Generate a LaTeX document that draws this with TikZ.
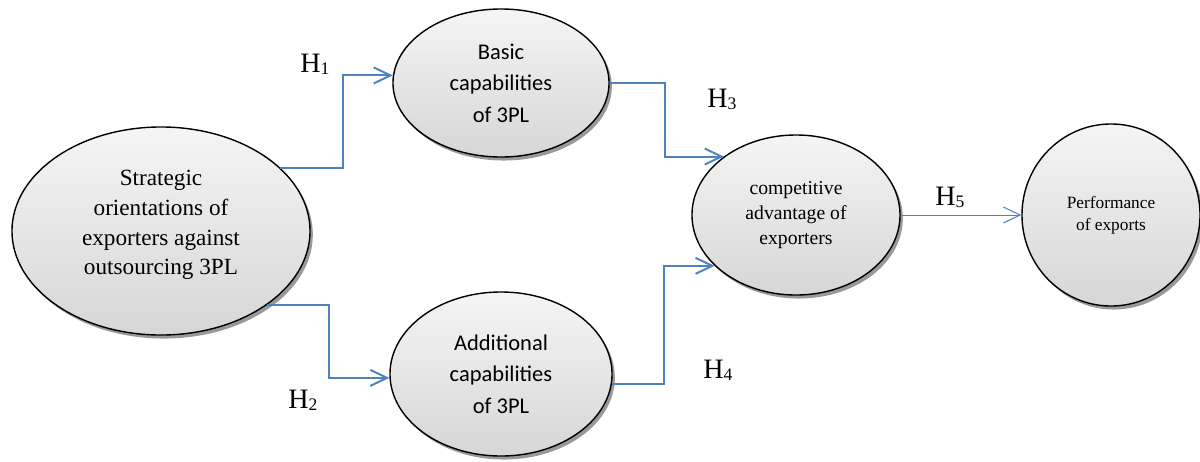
\documentclass[tikz,border=0pt]{standalone}
\usepackage{fontspec}
\setmainfont{Liberation Serif}
\newfontfamily\tnr{Liberation Serif}
\newfontfamily\calib{Carlito}
\usetikzlibrary{shapes.geometric,shadows,arrows.meta}
\definecolor{lnkblue}{HTML}{4F81BD}
\newcommand\hlab[1]{{\tnr\fontsize{20}{24}\selectfont H}\raisebox{-2pt}{\tnr\fontsize{12.5}{14}\selectfont #1}}

\begin{document}
\begin{tikzpicture}
      [x=.025cm,y=-.025cm
      ,bub/.style={ellipse,draw=black,line width=1pt,inner sep=0pt,align=center
                  ,top color=gray!8,bottom color=gray!32
                  ,drop shadow={shadow xshift=2pt,shadow yshift=-2.5pt,fill=black!40,opacity=1}}
      ,lnk/.style={draw=lnkblue,line width=1.4pt,-{Straight Barb[length=4.2mm,width=4mm]}}
      ,thinlnk/.style={lnk,line width=.7pt}
      ,hyp/.style={anchor=base west,inner sep=0pt}
      ]
        \useasboundingbox (0,0) rectangle (1200,461);
        % the five constructs
        \node[bub,minimum width=7.45cm,minimum height=5.2cm
             ,font=\tnr\fontsize{16.5}{21}\selectfont] (strat) at (161,231)
             {Strategic\\orientations of\\exporters against\\outsourcing 3PL\\[-9pt]\mbox{}};
        \node[bub,minimum width=5.4cm,minimum height=3.7cm
             ,font=\calib\fontsize{16}{22.5}\selectfont] (basic) at (501,83)
             {Basic\\capabilities\\of 3PL};
        \node[bub,minimum width=5.55cm,minimum height=4.1cm
             ,font=\calib\fontsize{16}{22.5}\selectfont] (addl) at (501,374)
             {Additional\\capabilities\\of 3PL};
        \node[bub,minimum width=5.2cm,minimum height=4cm
             ,font=\tnr\fontsize{14}{18}\selectfont] (comp) at (796,215)
             {competitive\\advantage of\\exporters};
        \node[bub,minimum width=4.45cm,minimum height=4.55cm
             ,font=\tnr\fontsize{12.3}{16}\selectfont] (perf) at (1111,215)
             {Performance\\of exports};
        % hypotheses
        \draw[lnk] (strat.28) -- ++(63,0) |- (basic.176);
        \draw[lnk] (strat.-35) -- ++(62,0) |- (addl.182);
        \draw[lnk] (basic.east) -- ++(55,0) |- (comp.141);
        \draw[lnk] (addl.-5) -- ++(52,0) |- (comp.212);
        \draw[thinlnk] (comp) -- (perf);
        \foreach \n/\xx/\yy in {1/300/72,2/288/408,3/707/107,4/703/378,5/935/205}{
          \node[hyp] (h\n) at (\xx,\yy) {\hlab{\n}};
        }
      \end{tikzpicture}
\end{document}
